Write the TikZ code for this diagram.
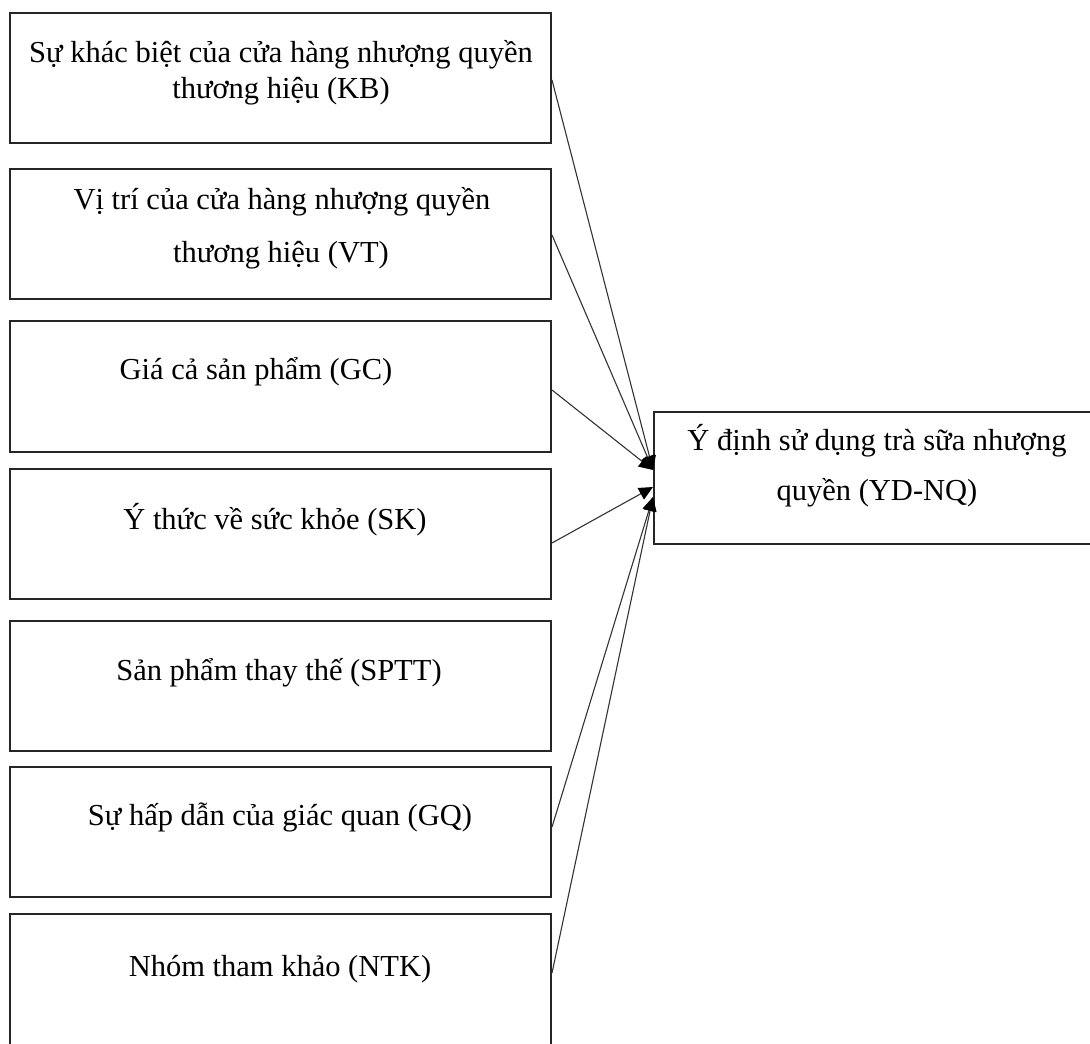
\documentclass[tikz,border=0pt]{standalone}
\usepackage{fontspec}
\setmainfont{Liberation Serif}
\usetikzlibrary{arrows.meta}
\begin{document}
\begin{tikzpicture}[x=1pt,y=-1pt,
  boxstyle/.style={draw=black!85,line width=2pt,rectangle,inner sep=0pt},
  txt/.style={anchor=base,inner sep=0pt,font=\fontsize{30.5}{36}\selectfont,text=black},
  conn/.style={draw=black!80,line width=1.1pt,-{Triangle[length=14pt,width=13pt,fill=black,color=black]}}]
\useasboundingbox (0,0) rectangle (1090,1044);
\clip (0,0) rectangle (1090,1044);
% boxes
\node[boxstyle,minimum width=541pt,minimum height=130pt] (kb) at (280.5,78) {};
\node[boxstyle,minimum width=541pt,minimum height=130pt] (vt) at (280.5,234) {};
\node[boxstyle,minimum width=541pt,minimum height=131pt] (gc) at (280.5,386.5) {};
\node[boxstyle,minimum width=541pt,minimum height=130pt] (sk) at (280.5,534) {};
\node[boxstyle,minimum width=541pt,minimum height=130pt] (sptt) at (280.5,686) {};
\node[boxstyle,minimum width=541pt,minimum height=130pt] (gq) at (280.5,832) {};
\node[boxstyle,minimum width=541pt,minimum height=160pt] (ntk) at (280.5,994) {};
\node[boxstyle,minimum width=442pt,minimum height=132pt] (yd) at (875,478) {};
% texts
\node[txt] (t1a) at (281,62) {Sự khác biệt của cửa hàng nhượng quyền};
\node[txt] (t1b) at (281,98) {thương hiệu (KB)};
\node[txt] (t2a) at (282,209) {Vị trí của cửa hàng nhượng quyền};
\node[txt] (t2b) at (281,262) {thương hiệu (VT)};
\node[txt] (t3) at (256,379) {Giá cả sản phẩm (GC)};
\node[txt] (t4) at (275,529) {Ý thức về sức khỏe (SK)};
\node[txt] (t5) at (279,680) {Sản phẩm thay thế (SPTT)};
\node[txt] (t6) at (280,825) {Sự hấp dẫn của giác quan (GQ)};
\node[txt] (t7) at (280,976) {Nhóm tham khảo (NTK)};
\node[txt] (t8a) at (877,450) {Ý định sử dụng trà sữa nhượng};
\node[txt] (t8b) at (877,500) {quyền (YD-NQ)};
% connector endpoints
\coordinate (s1) at (kb.east |- 0,80);
\coordinate (s2) at (vt.east |- 0,235);
\coordinate (s3) at (gc.east |- 0,390);
\coordinate (s4) at (sk.east |- 0,543);
\coordinate (s6) at (gq.east |- 0,827);
\coordinate (s7) at (ntk.east |- 0,973);
\coordinate (e1) at (yd.west |- 0,470);
\coordinate (e2) at (yd.west |- 0,487);
\coordinate (e3) at (yd.west |- 0,497);
\draw[conn] (s1) -- (e1);
\draw[conn] (s2) -- (e1);
\draw[conn] (s3) -- (e1);
\draw[conn] (s4) -- (e2);
\draw[conn] (s6) -- (e3);
\draw[conn] (s7) -- (e3);
\end{tikzpicture}
\end{document}
